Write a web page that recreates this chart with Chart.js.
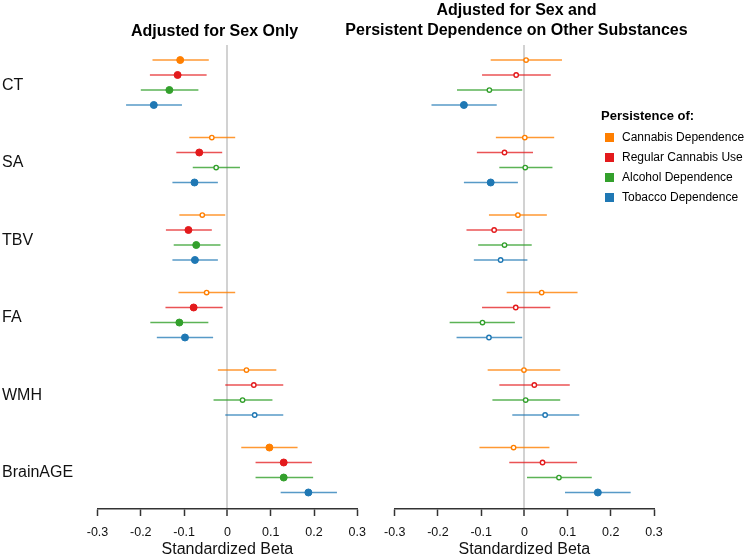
<!DOCTYPE html>
<html><head><meta charset="utf-8">
<script src="https://cdn.jsdelivr.net/npm/chart.js@4.4.1/dist/chart.umd.min.js"></script>
<style>
html,body{margin:0;padding:0;background:#fff;}
body{width:750px;height:557px;position:relative;overflow:hidden;font-family:"Liberation Sans",Arial,sans-serif;color:#000;}
.cw{position:absolute;top:0;height:557px;width:375px;}
.ttl{position:absolute;font-weight:bold;font-size:16px;white-space:nowrap;transform:translate(-50%,-50%);line-height:1;}
#legend{position:absolute;left:601px;top:108px;}
#legend .lt{font-weight:bold;font-size:13px;line-height:16px;height:16px;margin-bottom:3px;}
#legend .it{position:relative;height:20px;font-size:12px;line-height:20px;padding-left:21px;white-space:nowrap;}
#legend .sq{position:absolute;left:4px;top:5.5px;width:9px;height:9px;}
</style></head>
<body>
<div class="cw" style="left:0"><canvas id="cA" width="375" height="557"></canvas></div>
<div class="cw" style="left:375px"><canvas id="cB" width="375" height="557"></canvas></div>
<div class="ttl" style="left:214.5px;top:30.5px">Adjusted for Sex Only</div>
<div class="ttl" style="left:516.5px;top:10px">Adjusted for Sex and</div>
<div class="ttl" style="left:516.5px;top:30px">Persistent Dependence on Other Substances</div>
<div id="legend"></div>
<script>
// ---- categories / labels ----
const outcomes = ['CT','SA','TBV','FA','WMH','BrainAGE'];
const seriesNames = ['Cannabis Dependence','Regular Cannabis Use','Alcohol Dependence','Tobacco Dependence'];
const legendTitle = 'Persistence of:';
const xTicks = [-0.3,-0.2,-0.1,0,0.1,0.2,0.3];
const xTickLabels = ['-0.3','-0.2','-0.1','0','0.1','0.2','0.3'];
const axisTitle = 'Standardized Beta';

// ---- Panel A: Adjusted for Sex Only ----
const aCanDepBeta = [-0.109,-0.036,-0.058,-0.048, 0.044, 0.097];
const aCanDepLo   = [-0.173,-0.088,-0.111,-0.113,-0.022, 0.032];
const aCanDepHi   = [-0.043, 0.018,-0.005, 0.018, 0.113, 0.162];
const aCanDepSig  = [1,0,0,0,0,1];

const aRegUseBeta = [-0.115,-0.065,-0.090,-0.078, 0.061, 0.130];
const aRegUseLo   = [-0.179,-0.118,-0.142,-0.143,-0.005, 0.065];
const aRegUseHi   = [-0.048,-0.012,-0.036,-0.011, 0.129, 0.195];
const aRegUseSig  = [1,1,1,1,0,1];

const aAlcDepBeta = [-0.134,-0.026,-0.072,-0.111, 0.035, 0.130];
const aAlcDepLo   = [-0.200,-0.080,-0.124,-0.178,-0.032, 0.065];
const aAlcDepHi   = [-0.067, 0.029,-0.016,-0.044, 0.104, 0.198];
const aAlcDepSig  = [1,0,1,1,0,1];

const aTobDepBeta = [-0.170,-0.076,-0.075,-0.098, 0.063, 0.187];
const aTobDepLo   = [-0.234,-0.127,-0.127,-0.163,-0.005, 0.123];
const aTobDepHi   = [-0.105,-0.022,-0.022,-0.033, 0.129, 0.253];
const aTobDepSig  = [1,1,1,1,0,1];

// ---- Panel B: Adjusted for Sex and Persistent Dependence on Other Substances ----
const bCanDepBeta = [ 0.004, 0.001,-0.015, 0.040,-0.001,-0.025];
const bCanDepLo   = [-0.078,-0.066,-0.082,-0.041,-0.085,-0.104];
const bCanDepHi   = [ 0.087, 0.069, 0.052, 0.123, 0.083, 0.058];
const bCanDepSig  = [0,0,0,0,0,0];

const bRegUseBeta = [-0.019,-0.046,-0.070,-0.020, 0.023, 0.042];
const bRegUseLo   = [-0.098,-0.110,-0.134,-0.098,-0.058,-0.035];
const bRegUseHi   = [ 0.061, 0.020,-0.005, 0.060, 0.105, 0.122];
const bRegUseSig  = [0,0,0,0,0,0];

const bAlcDepBeta = [-0.081, 0.002,-0.046,-0.097, 0.003, 0.080];
const bAlcDepLo   = [-0.156,-0.058,-0.107,-0.173,-0.074, 0.006];
const bAlcDepHi   = [-0.005, 0.065, 0.017,-0.022, 0.083, 0.156];
const bAlcDepSig  = [0,0,0,0,0,0];

const bTobDepBeta = [-0.140,-0.078,-0.055,-0.082, 0.048, 0.170];
const bTobDepLo   = [-0.215,-0.140,-0.117,-0.157,-0.028, 0.094];
const bTobDepHi   = [-0.064,-0.015, 0.007,-0.005, 0.127, 0.246];
const bTobDepSig  = [1,1,0,0,0,1];

// ---- styles ----
const colors = ['#FF7F00','#E31A1C','#33A02C','#1F78B4'];
const lineColors = ['rgba(255,127,0,0.8)','rgba(227,26,28,0.75)','rgba(51,160,44,0.8)','rgba(31,120,180,0.75)'];
const rowOffsets = [-0.29,-0.097,0.097,0.29];

const panelA = [
  [aCanDepBeta,aCanDepLo,aCanDepHi,aCanDepSig],
  [aRegUseBeta,aRegUseLo,aRegUseHi,aRegUseSig],
  [aAlcDepBeta,aAlcDepLo,aAlcDepHi,aAlcDepSig],
  [aTobDepBeta,aTobDepLo,aTobDepHi,aTobDepSig]
];
const panelB = [
  [bCanDepBeta,bCanDepLo,bCanDepHi,bCanDepSig],
  [bRegUseBeta,bRegUseLo,bRegUseHi,bRegUseSig],
  [bAlcDepBeta,bAlcDepLo,bAlcDepHi,bAlcDepSig],
  [bTobDepBeta,bTobDepLo,bTobDepHi,bTobDepSig]
];

function buildDatasets(panel){
  const ds = [];
  panel.forEach((s, k) => {
    const [beta, lo, hi, sig] = s;
    const ciData = [];
    outcomes.forEach((o, i) => {
      const y = i + rowOffsets[k];
      ciData.push({x: lo[i], y}, {x: hi[i], y}, {x: null, y: null});
    });
    ds.push({
      label: seriesNames[k] + ' CI', data: ciData, showLine: true, spanGaps: false,
      borderColor: lineColors[k], borderWidth: 1.6, pointRadius: 0, order: 1
    });
    ds.push({
      label: seriesNames[k], order: 0,
      data: outcomes.map((o, i) => ({x: beta[i], y: i + rowOffsets[k]})),
      pointStyle: 'circle',
      pointRadius: sig.map(v => v ? 3.5 : 2.2),
      pointBorderWidth: sig.map(v => v ? 1 : 1.4),
      pointBorderColor: colors[k],
      pointBackgroundColor: sig.map(v => v ? colors[k] : '#ffffff'),
      showLine: false
    });
  });
  return ds;
}

const FONT = '"Liberation Sans", Arial, sans-serif';
function makeChart(id, panel, showY, pad){
  return new Chart(document.getElementById(id), {
    type: 'scatter',
    data: { datasets: buildDatasets(panel) },
    options: {
      responsive: false, animation: false, events: [],
      layout: { padding: pad },
      plugins: { legend: { display: false }, tooltip: { enabled: false }, title: { display: false } },
      scales: {
        x: {
          type: 'linear', min: -0.3, max: 0.3,
          afterBuildTicks: (ax) => { ax.ticks = xTicks.map(v => ({value: v})); },
          afterFit: (ax) => { ax.height = 48; },
          ticks: { callback: (v) => xTickLabels[xTicks.findIndex(t => Math.abs(t - v) < 1e-9)], color: '#111', padding: 9, maxRotation: 0, autoSkip: false, font: { family: FONT, size: 12.5 } },
          grid: {
            drawOnChartArea: true, drawTicks: true, tickLength: 7, tickColor: '#333', tickWidth: 1.5,
            color: (c) => (c.tick && Math.abs(c.tick.value) < 1e-9) ? '#d2d2d2' : 'rgba(0,0,0,0)',
            lineWidth: (c) => (c.tick && Math.abs(c.tick.value) < 1e-9) ? 2 : 1
          },
          border: { display: true, color: '#333', width: 1.5 },
          title: { display: true, text: axisTitle, color: '#111', padding: { top: 0, bottom: -2.5 }, font: { family: FONT, size: 16 } }
        },
        y: {
          type: 'linear', min: -0.484, max: 5.503, reverse: true, display: showY,
          afterBuildTicks: (ax) => { ax.ticks = outcomes.map((o, i) => ({value: i + 0.035})); },
          afterFit: (ax) => { ax.width = showY ? 95.5 : 0; },
          ticks: { callback: (v) => outcomes[Math.round(v)], crossAlign: 'far', color: '#111', padding: 0, autoSkip: false, font: { family: FONT, size: 16 } },
          grid: { display: false, drawTicks: false },
          border: { display: false }
        }
      }
    }
  });
}

makeChart('cA', panelA, true, { top: 45, left: 2, right: 16.5, bottom: 0 });
makeChart('cB', panelB, false, { top: 45, left: 18.3, right: 96, bottom: 0 });

// legend
const lg = document.getElementById('legend');
const t = document.createElement('div'); t.className = 'lt'; t.textContent = legendTitle; lg.appendChild(t);
seriesNames.forEach((n, k) => {
  const it = document.createElement('div'); it.className = 'it';
  const sq = document.createElement('span'); sq.className = 'sq'; sq.style.background = colors[k];
  it.appendChild(sq); it.appendChild(document.createTextNode(n)); lg.appendChild(it);
});
</script>
</body></html>
